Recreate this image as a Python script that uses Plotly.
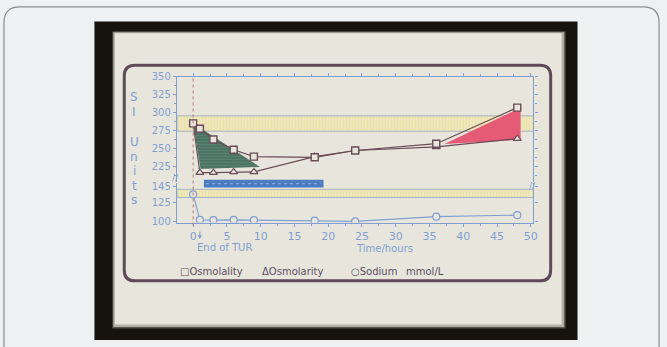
import plotly.graph_objects as go

# ---------------- data ----------------
HOURS = [0, 1, 3, 6, 9, 18, 24, 36, 48]
OSMOLALITY = [285, 277.5, 262.5, 248, 238.5, 237.5, 247, 256.5, 307]
OSMOLARITY = [285, 216, 216, 217, 217, 238.5, 247, 252, 263.5]
SODIUM = [135, 102.5, 102, 102.5, 102, 101.5, 100.5, 106.5, 108.5]

OSM_NORMAL = [274, 295.5]      # yellow band, upper panel
NA_NORMAL = [131, 141.5]       # yellow band, lower panel

GREEN_HOURS = [0, 1.1, 9.9]
GREEN_VALUES = [285, 221, 224]
RED_HOURS = [37.2, 48.5, 48.5]
RED_VALUES = [256, 307, 262]

BAR_HOURS = [1.6, 19.3]        # blue bar
END_OF_TUR = 1

X_TICKS = [0, 5, 10, 15, 20, 25, 30, 35, 40, 45, 50]
UPPER_TICKS = [225, 250, 275, 300, 325, 350]
LOWER_TICKS = [100, 125, 145]

X_RANGE = [-2.4, 50.4]
UPPER_RANGE = [203.3, 350]
LOWER_RANGE = [99, 150]

# ---------------- helpers ----------------
W, H = 667, 347
def px(x):
    return x / W
def py(y):
    return 1 - y / H

BLUE = "#7f9fd4"
MAUVE = "#6a4b57"
CREAM = "#e8e6dc"
TXT = "#5d4f63"

fig = go.Figure()

def band(lohi, yaxis):
    xs = [X_RANGE[0], X_RANGE[1], X_RANGE[1], X_RANGE[0], X_RANGE[0]]
    ys = [lohi[0], lohi[0], lohi[1], lohi[1], lohi[0]]
    fig.add_trace(go.Scatter(
        x=xs, y=ys, yaxis=yaxis, mode="lines", fill="toself",
        fillcolor="rgba(240,232,175,0.55)",
        fillpattern=dict(shape="|", fgcolor="#eadb86", size=3, solidity=0.45),
        line=dict(color="#a5b3c3", width=1), hoverinfo="skip", showlegend=False))

band(OSM_NORMAL, "y")
band(NA_NORMAL, "y2")

fig.add_trace(go.Scatter(
    x=GREEN_HOURS + GREEN_HOURS[:1], y=GREEN_VALUES + GREEN_VALUES[:1], yaxis="y",
    mode="lines", fill="toself", fillcolor="#4c7464",
    fillpattern=dict(shape="-", fgcolor="#6e9182", size=3, solidity=0.3),
    line=dict(width=0), hoverinfo="skip", showlegend=False))
fig.add_trace(go.Scatter(
    x=RED_HOURS + RED_HOURS[:1], y=RED_VALUES + RED_VALUES[:1], yaxis="y",
    mode="lines", fill="toself", fillcolor="#e55b75",
    line=dict(width=0), hoverinfo="skip", showlegend=False))

fig.add_trace(go.Scatter(
    x=HOURS, y=OSMOLARITY, yaxis="y", mode="lines+markers", name="Osmolarity",
    line=dict(color=MAUVE, width=1.2),
    marker=dict(symbol="triangle-up", size=7, color=CREAM, line=dict(color=MAUVE, width=1.2)),
    showlegend=False))
fig.add_trace(go.Scatter(
    x=HOURS, y=OSMOLALITY, yaxis="y", mode="lines+markers", name="Osmolality",
    line=dict(color=MAUVE, width=1.2),
    marker=dict(symbol="square", size=7, color=CREAM, line=dict(color=MAUVE, width=1.4)),
    showlegend=False))
fig.add_trace(go.Scatter(
    x=HOURS, y=SODIUM, yaxis="y2", mode="lines+markers", name="Sodium",
    line=dict(color=BLUE, width=1.2),
    marker=dict(symbol="circle", size=7, color=CREAM, line=dict(color=BLUE, width=1.2)),
    showlegend=False))

# ---------------- decorations (photo of a slide) ----------------
def rounded(x0, y0, x1, y1, r):
    return (f"M {px(x0+r)} {py(y0)} L {px(x1-r)} {py(y0)} Q {px(x1)} {py(y0)} {px(x1)} {py(y0+r)} "
            f"L {px(x1)} {py(y1-r)} Q {px(x1)} {py(y1)} {px(x1-r)} {py(y1)} "
            f"L {px(x0+r)} {py(y1)} Q {px(x0)} {py(y1)} {px(x0)} {py(y1-r)} "
            f"L {px(x0)} {py(y0+r)} Q {px(x0)} {py(y0)} {px(x0+r)} {py(y0)} Z")

shapes = [
    dict(type="path", xref="paper", yref="paper", layer="below",
         path=rounded(4, 2, 663, 380, 16), line=dict(color="#8c8c8c", width=1.2),
         fillcolor="#eff0f2"),
    dict(type="rect", xref="paper", yref="paper", layer="below",
         x0=px(95), x1=px(581), y0=py(345), y1=py(17), fillcolor="#16130f", line=dict(width=0)),
    dict(type="rect", xref="paper", yref="paper", layer="below",
         x0=px(113), x1=px(569), y0=py(333), y1=py(27), fillcolor="#5a554b", line=dict(width=0)),
    dict(type="rect", xref="paper", yref="paper", layer="below",
         x0=px(114), x1=px(567.5), y0=py(331.5), y1=py(28), fillcolor="#b3afa4", line=dict(width=0)),
    dict(type="rect", xref="paper", yref="paper", layer="below",
         x0=px(115.5), x1=px(565), y0=py(329), y1=py(29), fillcolor=CREAM, line=dict(width=0)),
    dict(type="path", xref="paper", yref="paper", layer="below",
         path=rounded(125, 62, 554, 284, 11), line=dict(color="#5f4a59", width=3)),
    # dotted marker line at time zero
    dict(type="line", xref="x", yref="paper", x0=0, x1=0, y0=py(227), y1=py(74),
         line=dict(color="#b27a78", width=1, dash="dot")),
    # blue bar
    dict(type="rect", xref="x", yref="paper", x0=BAR_HOURS[0], x1=BAR_HOURS[1],
         y0=py(188), y1=py(180), fillcolor="#4a7cc3", line=dict(width=0)),
    dict(type="line", xref="x", yref="paper", x0=BAR_HOURS[0] + 0.3, x1=BAR_HOURS[1] - 0.4,
         y0=py(184), y1=py(184), line=dict(color="#8fb0e0", width=1, dash="dot")),
]

ann = []
def text(x, y, s, size=11, color=BLUE, xanchor="center", family="DejaVu Sans"):
    ann.append(dict(x=px(x), y=py(y), xref="paper", yref="paper", text=s, showarrow=False,
                    xanchor=xanchor, yanchor="middle", font=dict(size=size, color=color, family=family)))

for ch, yy in zip(["S", "I", "U", "n", "i", "t", "s"], [95, 110, 141, 156, 171, 186, 201]):
    text(135, yy, ch, size=12)
text(196, 250, "End of TUR", size=10, xanchor="left")
text(387, 251, "Time/hours", size=10)
text(179, 274, "□Osmolality", size=10, color=TXT, xanchor="left")
text(262, 274, "ΔOsmolarity", size=10, color=TXT, xanchor="left")
text(351, 274, "○Sodium", size=10, color=TXT, xanchor="left")
text(406, 274, "mmol/L", size=10, color=TXT, xanchor="left")
text(177, 178, "//", size=9)
text(536, 186, "//", size=9)
ann.append(dict(x=END_OF_TUR, xref="x", y=py(241), yref="paper", text="", showarrow=True,
                ax=0, ay=-9, arrowhead=2, arrowsize=0.8, arrowwidth=1, arrowcolor=BLUE))

axis_common = dict(showline=True, linecolor=BLUE, linewidth=1.2, ticks="outside", ticklen=3,
                   tickcolor=BLUE, showgrid=False, zeroline=False,
                   tickfont=dict(family="DejaVu Sans", size=10, color=BLUE))

fig.update_layout(
    width=W, height=H, margin=dict(l=0, r=0, t=0, b=0),
    paper_bgcolor="#eff0f2", plot_bgcolor="rgba(0,0,0,0)",
    showlegend=False, shapes=shapes, annotations=ann,
    xaxis=dict(domain=[px(178), px(536.7)], range=X_RANGE, anchor="y2",
               tickvals=X_TICKS, minor=dict(dtick=2.5, ticklen=2, tickcolor=BLUE, ticks="outside"),
               **{**axis_common, "tickfont": dict(family="DejaVu Sans", size=11, color=BLUE)}),
    xaxis2=dict(domain=[px(178), px(536.7)], range=X_RANGE, anchor="y", overlaying="x",
                side="top", showticklabels=False, tickvals=X_TICKS,
                minor=dict(dtick=2.5, ticklen=2, tickcolor=BLUE, ticks="outside"), **axis_common),
    yaxis=dict(domain=[py(182), py(74)], range=UPPER_RANGE, anchor="x", tickvals=UPPER_TICKS,
               mirror="ticks", minor=dict(dtick=12.5, ticklen=2, tickcolor=BLUE, ticks="outside"),
               **axis_common),
    yaxis2=dict(domain=[py(224), py(183)], range=LOWER_RANGE, anchor="x", tickvals=LOWER_TICKS,
                mirror="ticks", **axis_common),
)
# dummy trace so xaxis2 is drawn
fig.add_trace(go.Scatter(x=[None], y=[None], xaxis="x2", yaxis="y", showlegend=False))

fig.write_html("out.html", config={"displayModeBar": False},
               post_script="document.body.style.margin='0';")
